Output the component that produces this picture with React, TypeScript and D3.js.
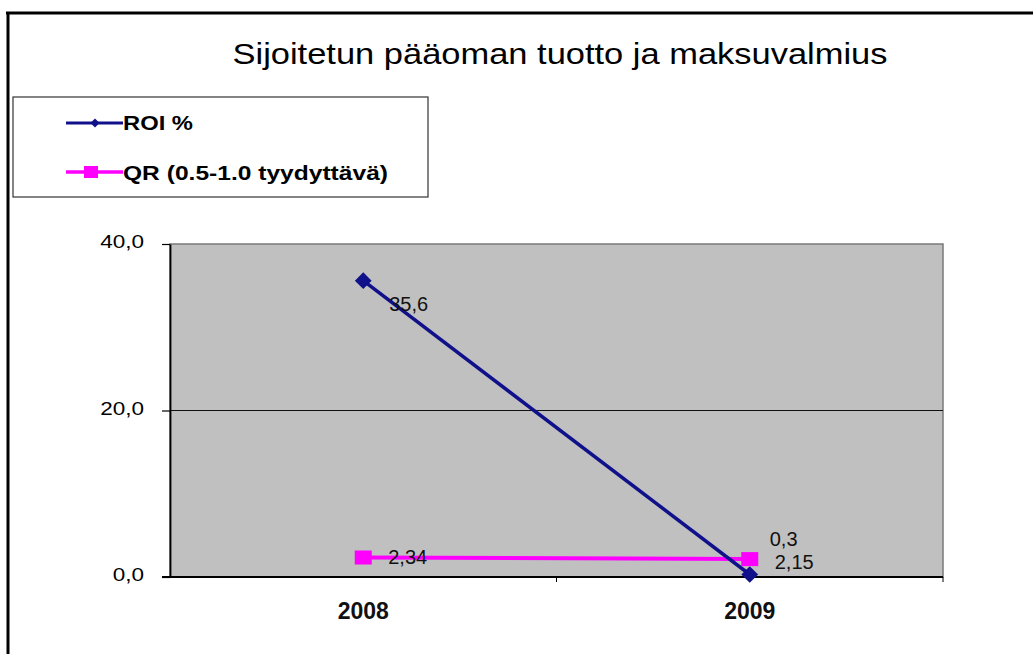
import React, { useRef, useEffect } from 'react';
import * as d3 from 'd3';

const years = ['2008', '2009'];
const roi = [35.6, 0.3];
const qr = [2.34, 2.15];
const yTicks = [0, 20, 40];

const App = () => {
    const svgRef = useRef<SVGSVGElement | null>(null);

    useEffect(() => {
        const svg = d3.select(svgRef.current);
        svg.selectAll('*').remove();
        const font = 'Liberation Sans, Arial, sans-serif';
        const comma = (v: number) => String(v).replace('.', ',');

        // outer frame (only top and left edges show)
        svg.append('rect').attr('x', 0).attr('y', 0).attr('width', 1033).attr('height', 654).attr('fill', '#fff');
        svg.append('line').attr('x1', 6).attr('x2', 1033).attr('y1', 13).attr('y2', 13)
            .attr('stroke', '#000').attr('stroke-width', 3);
        svg.append('line').attr('x1', 8).attr('x2', 8).attr('y1', 12).attr('y2', 654)
            .attr('stroke', '#000').attr('stroke-width', 3);

        svg.append('text').attr('x', 560).attr('y', 64).attr('text-anchor', 'middle')
            .attr('font-family', font).attr('font-size', 30).attr('fill', '#000')
            .attr('textLength', 655).attr('lengthAdjust', 'spacingAndGlyphs')
            .text('Sijoitetun pääoman tuotto ja maksuvalmius');

        const left = 170, right = 943, top = 244, bottom = 577;
        const x = d3.scaleBand().domain(years).range([left, right]);
        const y = d3.scaleLinear().domain([0, 40]).range([bottom, top]);
        const cx = (d: string) => (x(d) as number) + x.bandwidth() / 2;

        svg.append('rect').attr('x', left).attr('y', top).attr('width', right - left).attr('height', bottom - top)
            .attr('fill', '#c0c0c0').attr('stroke', '#7a7a7a').attr('stroke-width', 1.5);

        // gridlines
        svg.append('g').selectAll('line').data(yTicks.filter(t => t > 0 && t < 40)).join('line')
            .attr('x1', left).attr('x2', right).attr('y1', d => y(d)).attr('y2', d => y(d))
            .attr('stroke', '#111').attr('stroke-width', 1.2);

        // y axis
        const yAxis = d3.axisLeft(y).tickValues(yTicks).tickSize(8).tickSizeOuter(0)
            .tickFormat(d => d3.format('.1f')(d as number).replace('.', ','));
        const gy = svg.append('g').attr('transform', `translate(${left},0)`).call(yAxis);
        gy.select('.domain').attr('stroke', '#000').attr('stroke-width', 1.8);
        gy.selectAll('.tick line').attr('stroke', '#000').attr('stroke-width', 1.2);
        gy.selectAll('.tick text').attr('font-family', font).attr('font-size', 18).attr('fill', '#000')
            .attr('transform', 'scale(1.25,1)').attr('x', -26 / 1.25).attr('dy', '0.2em');

        // x axis
        svg.append('line').attr('x1', left - 8).attr('x2', right).attr('y1', bottom).attr('y2', bottom)
            .attr('stroke', '#000').attr('stroke-width', 1.8);
        svg.append('line').attr('x1', x('2009') as number).attr('x2', x('2009') as number)
            .attr('y1', bottom).attr('y2', bottom + 5).attr('stroke', '#000');
        svg.append('line').attr('x1', right).attr('x2', right).attr('y1', bottom).attr('y2', bottom + 5).attr('stroke', '#000');
        svg.append('g').selectAll('text').data(years).join('text')
            .attr('x', d => cx(d)).attr('y', 619).attr('text-anchor', 'middle')
            .attr('font-family', font).attr('font-size', 23).attr('font-weight', 'bold').attr('fill', '#111')
            .text(d => d);

        const line = d3.line<number>().x((_, i) => cx(years[i])).y(d => y(d));

        svg.append('path').datum(qr).attr('d', line).attr('fill', 'none')
            .attr('stroke', '#ff00ff').attr('stroke-width', 4);
        svg.append('path').datum(roi).attr('d', line).attr('fill', 'none')
            .attr('stroke', '#10108a').attr('stroke-width', 3.5);

        svg.append('g').selectAll('path').data(roi).join('path')
            .attr('d', d3.symbol(d3.symbolSquare, 140)())
            .attr('transform', (d, i) => `translate(${cx(years[i])},${y(d)}) rotate(45)`)
            .attr('fill', '#10108a');
        svg.append('g').selectAll('rect').data(qr).join('rect')
            .attr('x', (d, i) => cx(years[i]) - 8.5).attr('y', d => y(d) - 7)
            .attr('width', 17).attr('height', 14).attr('fill', '#ff00ff');

        // data labels
        const lab = svg.append('g').attr('font-family', font).attr('font-size', 20).attr('fill', '#111');
        lab.append('text').attr('x', cx('2008') + 26).attr('y', y(roi[0]) + 30).text(comma(roi[0]));
        lab.append('text').attr('x', cx('2008') + 25).attr('y', y(qr[0]) + 6).text(comma(qr[0]));
        lab.append('text').attr('x', cx('2009') + 20).attr('y', y(qr[1]) - 13).text(comma(roi[1]));
        lab.append('text').attr('x', cx('2009') + 25).attr('y', y(qr[1]) + 10).text(comma(qr[1]));

        // legend
        const lg = svg.append('g');
        lg.append('rect').attr('x', 13).attr('y', 97).attr('width', 415).attr('height', 100)
            .attr('fill', '#fff').attr('stroke', '#333').attr('stroke-width', 1.2);
        lg.append('line').attr('x1', 66).attr('x2', 123).attr('y1', 123).attr('y2', 123)
            .attr('stroke', '#10108a').attr('stroke-width', 3);
        lg.append('path').attr('d', d3.symbol(d3.symbolSquare, 40)())
            .attr('transform', 'translate(95,123) rotate(45)').attr('fill', '#10108a');
        lg.append('line').attr('x1', 66).attr('x2', 123).attr('y1', 172).attr('y2', 172)
            .attr('stroke', '#ff00ff').attr('stroke-width', 3.5);
        lg.append('rect').attr('x', 84).attr('y', 166).attr('width', 14).attr('height', 12).attr('fill', '#ff00ff');
        lg.append('text').attr('x', 123).attr('y', 130).attr('font-family', font).attr('font-size', 21)
            .attr('font-weight', 'bold').attr('textLength', 70).attr('lengthAdjust', 'spacingAndGlyphs')
            .text('ROI %');
        lg.append('text').attr('x', 123).attr('y', 180).attr('font-family', font).attr('font-size', 21)
            .attr('font-weight', 'bold').attr('textLength', 265).attr('lengthAdjust', 'spacingAndGlyphs')
            .text('QR (0.5-1.0 tyydyttävä)');
    }, []);

    return <svg ref={svgRef} width={1033} height={654}
        style={{ position: 'absolute', left: 0, top: 0, display: 'block' }} />;
};

export default App;
